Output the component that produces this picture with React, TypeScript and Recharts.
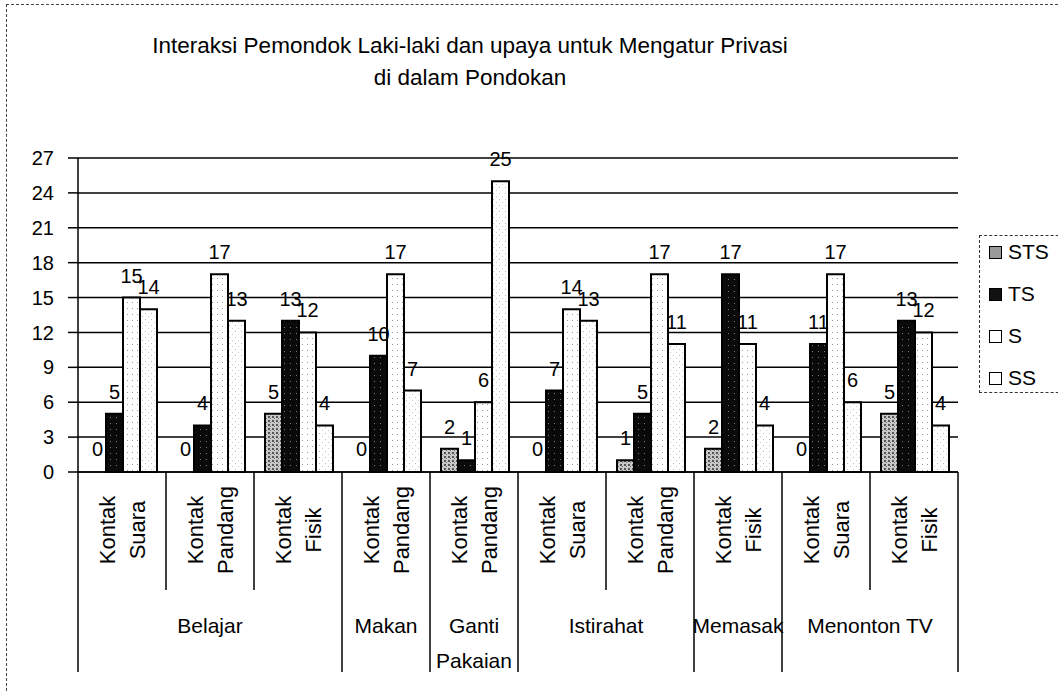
import { BarChart, Bar, XAxis, YAxis, CartesianGrid, LabelList, Rectangle } from 'recharts'

const subLabels = [
  'Kontak Suara', 'Kontak Pandang', 'Kontak Fisik', 'Kontak Pandang', 'Kontak Pandang',
  'Kontak Suara', 'Kontak Pandang', 'Kontak Fisik', 'Kontak Suara', 'Kontak Fisik',
]
const groupOf = [
  'Belajar', 'Belajar', 'Belajar', 'Makan', 'Ganti Pakaian',
  'Istirahat', 'Istirahat', 'Memasak', 'Menonton TV', 'Menonton TV',
]
const wrappedGroups: Record<string, string[]> = { 'Ganti Pakaian': ['Ganti', 'Pakaian'] }

const stsValues = [0, 0, 5, 0, 2, 0, 1, 2, 0, 5]
const tsValues = [5, 4, 13, 10, 1, 7, 5, 17, 11, 13]
const sValues = [15, 17, 12, 17, 6, 14, 17, 11, 17, 12]
const ssValues = [14, 13, 4, 7, 25, 13, 11, 4, 6, 4]
const yTicks = [0, 3, 6, 9, 12, 15, 18, 21, 24, 27]

const series = [
  { key: 'STS', fill: 'url(#patSTS)', icon: '#9a9a9a' },
  { key: 'TS', fill: 'url(#patTS)', icon: '#111' },
  { key: 'S', fill: 'url(#patS)', icon: '#fff' },
  { key: 'SS', fill: 'url(#patSS)', icon: '#fff' },
]

const data = subLabels.map((sub, i) => ({
  id: String(i),
  STS: stsValues[i],
  TS: tsValues[i],
  S: sValues[i],
  SS: ssValues[i],
}))

const W = 1058
const H = 692
const MARGIN = { top: 158, right: 100, bottom: 20, left: 0 }
const Y_W = 78
const BAND = (W - MARGIN.left - MARGIN.right - Y_W) / subLabels.length
const FONT = '"Liberation Sans", Arial, sans-serif'

function CategoryTick(props: any) {
  const { x, y, payload } = props
  const i = payload.index ?? Number(payload.value)
  const band = payload.offset ? payload.offset * 2 : BAND
  const words = subLabels[i].split(' ')
  const group = groupOf[i]
  const isStart = i === 0 || groupOf[i - 1] !== group
  const isLast = i === subLabels.length - 1
  let count = 0
  if (isStart) {
    for (let j = i; j < groupOf.length && groupOf[j] === group; j++) count++
  }
  const lines = wrappedGroups[group] ?? [group]
  const gx = x + ((count - 1) / 2) * band
  const labelMid = y + 58
  return (
    <g>
      <line x1={x - band / 2} x2={x - band / 2} y1={y} y2={y + (isStart ? 200 : 118)} stroke="#000" strokeWidth={1.5} />
      {isLast && (
        <line x1={x + band / 2} x2={x + band / 2} y1={y} y2={y + 200} stroke="#000" strokeWidth={1.5} />
      )}
      {words.map((w, k) => {
        const tx = x + (k === 0 ? -15 : 15)
        return (
          <text
            key={k}
            x={tx}
            y={labelMid}
            transform={`rotate(-90 ${tx} ${labelMid})`}
            textAnchor="middle"
            dominantBaseline="central"
            fontSize={22}
            fontFamily={FONT}
            fill="#000"
          >
            {w}
          </text>
        )
      })}
      {isStart &&
        lines.map((ln, k) => (
          <text
            key={'g' + k}
            x={gx}
            y={y + 153 + k * 35}
            textAnchor="middle"
            dominantBaseline="central"
            fontSize={21}
            fontFamily={FONT}
            fill="#000"
          >
            {ln}
          </text>
        ))}
    </g>
  )
}

// zero values get a tiny minPointSize so their label still shows, but no rect is drawn
function BarShape(props: any) {
  const { payload, dataKey } = props
  if (!payload || payload[dataKey] <= 0) return <g />
  return <Rectangle {...props} />
}

function LegendBox() {
  return (
    <div
      style={{
        position: 'absolute',
        left: 979,
        top: 235,
        width: 90,
        height: 158,
        boxSizing: 'border-box',
        border: '1px dashed #333',
        background: '#fff',
      }}
    >
      {series.map((s, k) => (
        <div
          key={s.key}
          style={{
            position: 'absolute',
            left: 9,
            top: 16 + k * 42 - 14,
            height: 28,
            display: 'flex',
            alignItems: 'center',
            fontFamily: FONT,
            fontSize: 21,
            color: '#000',
          }}
        >
          <span
            style={{
              display: 'inline-block',
              width: 11,
              height: 11,
              border: '1.5px solid #000',
              background: s.icon,
              marginRight: 6,
            }}
          />
          {s.key}
        </div>
      ))}
    </div>
  )
}

export default function App() {
  return (
    <div style={{ position: 'absolute', left: 0, top: 0, width: W, height: H, background: '#fff', overflow: 'hidden' }}>
      <div
        style={{
          position: 'absolute',
          left: 6,
          top: 4,
          width: 1060,
          height: 700,
          border: '1px dashed #444',
        }}
      />
      <div
        style={{
          position: 'absolute',
          left: 0,
          top: 30,
          width: 940,
          textAlign: 'center',
          fontFamily: FONT,
          fontSize: 22.5,
          lineHeight: '32px',
          color: '#000',
        }}
      >
        Interaksi Pemondok Laki-laki dan upaya untuk Mengatur Privasi
        <br />
        di dalam Pondokan
      </div>
      <BarChart
        width={W}
        height={H}
        data={data}
        margin={MARGIN}
        barCategoryGap="12.5%"
        barGap={0}
        style={{ position: 'absolute', left: 0, top: 0 }}
      >
        <defs>
          <pattern id="patSTS" width="4" height="4" patternUnits="userSpaceOnUse">
            <rect width="4" height="4" fill="#c8c8c8" />
            <rect width="2" height="2" fill="#555" />
            <rect x="2" y="2" width="1" height="1" fill="#777" />
          </pattern>
          <pattern id="patTS" width="6" height="6" patternUnits="userSpaceOnUse">
            <rect width="6" height="6" fill="#0a0a0a" />
            <rect x="2" y="3" width="1" height="1" fill="#777" />
          </pattern>
          <pattern id="patS" width="5" height="6" patternUnits="userSpaceOnUse">
            <rect width="5" height="6" fill="#fff" />
            <rect x="2" y="2" width="1" height="1" fill="#999" />
          </pattern>
          <pattern id="patSS" width="6" height="6" patternUnits="userSpaceOnUse">
            <rect width="6" height="6" fill="#fff" />
            <rect x="1" y="1" width="1" height="1" fill="#bbb" />
            <rect x="4" y="4" width="1" height="1" fill="#ccc" />
          </pattern>
        </defs>
        <CartesianGrid vertical={false} stroke="#000" strokeWidth={1.5} />
        <XAxis
          dataKey="id"
          height={200}
          axisLine={{ stroke: '#000', strokeWidth: 1.5 }}
          tickLine={false}
          tickSize={0}
          tickMargin={0}
          interval={0}
          tick={<CategoryTick />}
        />
        <YAxis
          width={Y_W}
          domain={[0, 27]}
          ticks={yTicks}
          interval={0}
          axisLine={{ stroke: '#000', strokeWidth: 1.5 }}
          tickLine={{ stroke: '#000', strokeWidth: 1.5 }}
          tickSize={10}
          tickMargin={14}
          tick={{ fill: '#000', fontSize: 20, fontFamily: FONT }}
        />
        {series.map((s) => (
          <Bar
            key={s.key}
            dataKey={s.key}
            fill={s.fill}
            stroke="#000"
            strokeWidth={2}
            minPointSize={1}
            shape={<BarShape dataKey={s.key} />}
            isAnimationActive={false}
          >
            <LabelList dataKey={s.key} position="top" offset={15} fill="#000" fontSize={20} fontFamily={FONT} />
          </Bar>
        ))}
      </BarChart>
      <LegendBox />
    </div>
  )
}
